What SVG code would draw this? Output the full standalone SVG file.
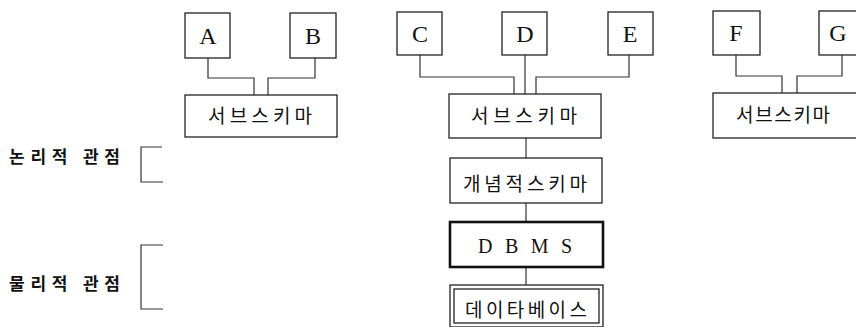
<svg xmlns="http://www.w3.org/2000/svg" width="856" height="327" viewBox="0 0 856 327">
<style>
.box{fill:#fff;stroke:#222;stroke-width:1.3}
.thick{fill:#fff;stroke:#111;stroke-width:2.6}
.ln{fill:none;stroke:#333;stroke-width:1.2}
.let{font-family:"Liberation Serif",serif;font-size:24px;fill:#111;text-anchor:middle;dominant-baseline:central}
.ko{font-family:"Noto Sans CJK KR",sans-serif;font-size:19px;fill:#111;text-anchor:middle;dominant-baseline:central}
.lab{font-family:"Noto Sans CJK KR",sans-serif;font-size:17px;font-weight:bold;fill:#111;dominant-baseline:central}
</style>
<rect width="856" height="327" fill="#fff"/>
<g id="connectors">
<path class="ln" d="M208,58 V78 H254 V95"/>
<path class="ln" d="M315,58 V78 H268 V95"/>
<path class="ln" d="M420,55 V77 H514 V94"/>
<path class="ln" d="M525,55 V94"/>
<path class="ln" d="M629,55 V77 H536 V94"/>
<path class="ln" d="M736,55 V76 H782 V93"/>
<path class="ln" d="M842,55 V76 H797 V93"/>
<path class="ln" d="M526,138 V158"/>
<path class="ln" d="M526,203 V222"/>
<path class="ln" d="M526,267 V285"/>
</g>
<g id="bracket-logical"><path class="ln" d="M162,147 H141 V182 H163"/></g>
<g id="bracket-physical"><path class="ln" d="M163,245 H141 V309 H163"/></g>
<g id="label-logical"><text class="lab" x="9" y="155" textLength="111" lengthAdjust="spacing">논리적 관점</text></g>
<g id="label-physical"><text class="lab" x="9" y="282" textLength="111" lengthAdjust="spacing">물리적 관점</text></g>
<g id="A"><rect class="box" x="185" y="13" width="45" height="45"/><text class="let" x="208" y="36">A</text></g>
<g id="B"><rect class="box" x="290" y="13" width="46" height="45"/><text class="let" x="313" y="36">B</text></g>
<g id="C"><rect class="box" x="397" y="12" width="45" height="43"/><text class="let" x="420" y="34">C</text></g>
<g id="D"><rect class="box" x="502" y="12" width="45" height="43"/><text class="let" x="525" y="34">D</text></g>
<g id="E"><rect class="box" x="608" y="12" width="45" height="43"/><text class="let" x="630" y="34">E</text></g>
<g id="F"><rect class="box" x="713" y="11" width="47" height="44"/><text class="let" x="736" y="33">F</text></g>
<g id="G"><rect class="box" x="819" y="11" width="47" height="44"/><text class="let" x="838" y="33">G</text></g>
<g id="subschema-1"><rect class="box" x="185" y="95" width="152" height="42"/><text class="ko" x="260" y="114" textLength="104" lengthAdjust="spacing">서브스키마</text></g>
<g id="subschema-2"><rect class="box" x="449" y="94" width="152" height="44"/><text class="ko" x="524" y="114" textLength="106" lengthAdjust="spacing">서브스키마</text></g>
<g id="subschema-3"><rect class="box" x="713" y="93" width="150" height="45"/><text class="ko" x="783" y="113" textLength="94" lengthAdjust="spacing">서브스키마</text></g>
<g id="conceptual-schema"><rect class="box" x="450" y="158" width="152" height="45"/><text class="ko" x="525" y="182" textLength="124" lengthAdjust="spacing">개념적스키마</text></g>
<g id="dbms"><rect class="thick" x="450" y="222" width="153" height="45"/><text class="let" x="525" y="246" style="font-size:20px" textLength="94" lengthAdjust="spacing">DBMS</text></g>
<g id="database"><rect class="box" x="450" y="285" width="153" height="42"/><rect class="box" x="454" y="289" width="145" height="34"/><text class="ko" x="526" y="308" textLength="122" lengthAdjust="spacing">데이타베이스</text></g>
</svg>
